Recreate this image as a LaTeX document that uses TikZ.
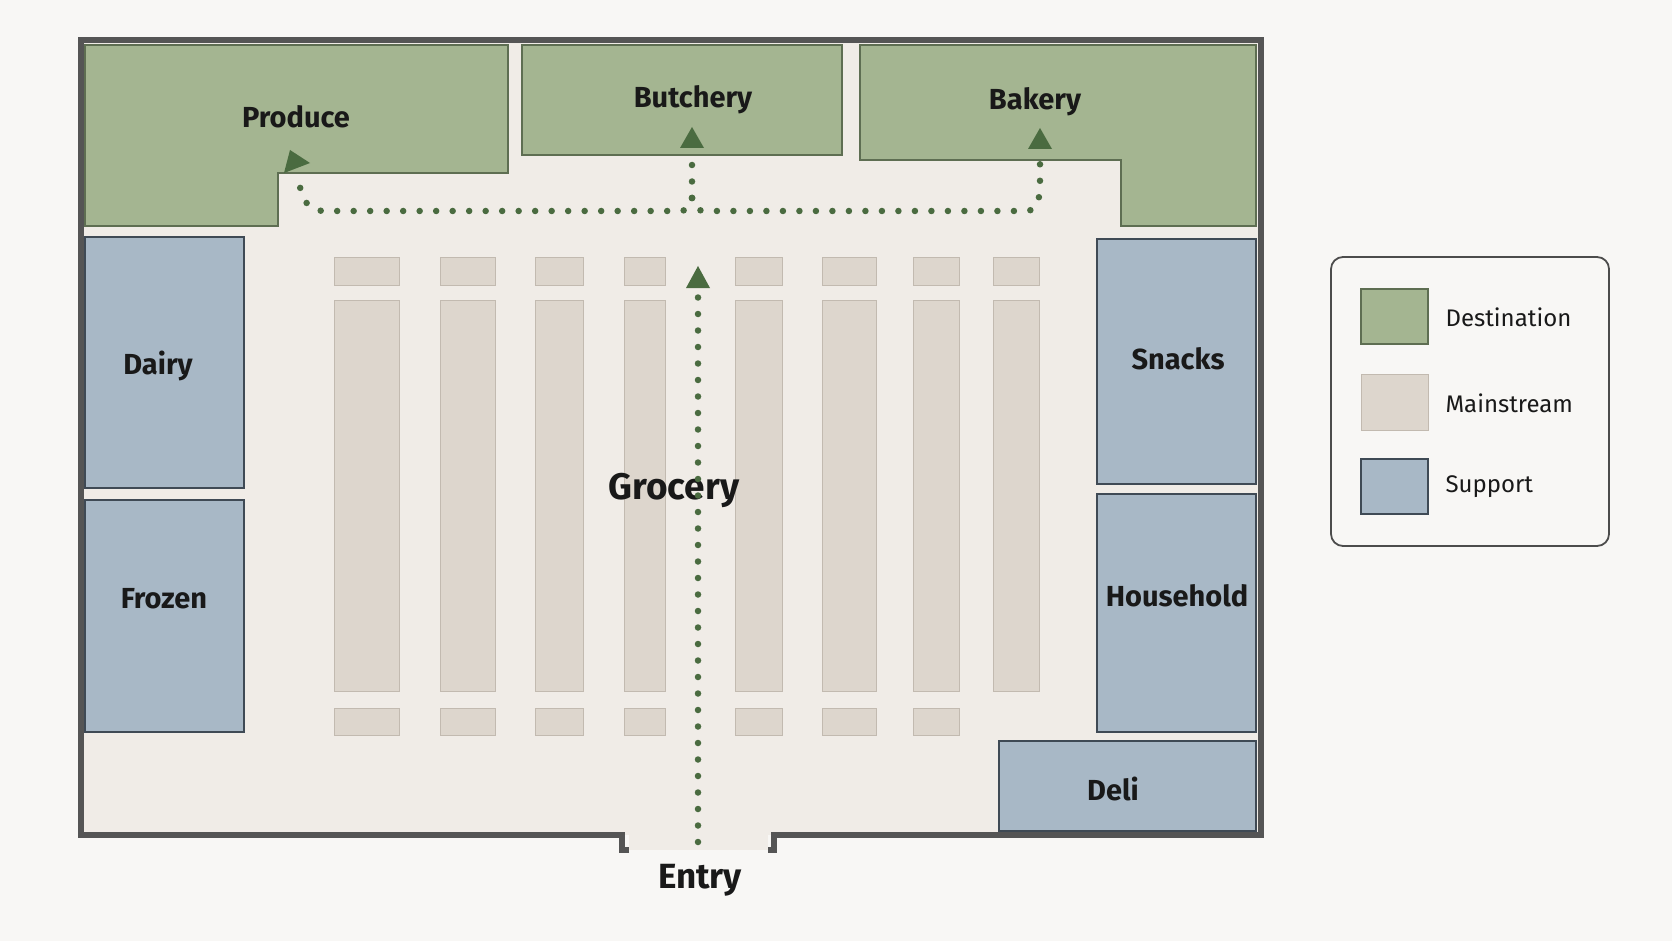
\documentclass[tikz,border=0pt]{standalone}
\usepackage{fontspec}
\setmainfont{Fira Sans}
\usetikzlibrary{arrows.meta}
\definecolor{bg}{HTML}{F8F7F5}
\definecolor{floor}{HTML}{F0ECE7}
\definecolor{dest}{HTML}{A4B591}
\definecolor{destE}{HTML}{5E6E52}
\definecolor{supp}{HTML}{A8B8C6}
\definecolor{suppE}{HTML}{3F4A55}
\definecolor{main}{HTML}{DDD6CD}
\definecolor{mainE}{HTML}{C2BAB0}
\definecolor{wall}{HTML}{555555}
\definecolor{path}{HTML}{4A6B40}
\begin{document}
\begin{tikzpicture}[x=1pt,y=-1pt,
  dst/.style={fill=dest,draw=destE,line width=1.2pt},
  sup/.style={fill=supp,draw=suppE,line width=1.2pt},
  shelf/.style={fill=main,draw=mainE,line width=1pt},
  lbl/.style={font=\fontsize{29}{30}\selectfont\bfseries,text=black!90},
  leg/.style={font=\fontsize{24}{26}\selectfont,text=black!90,anchor=west},
  route/.style={draw=path,line width=6.5pt,line cap=round,dash pattern=on 0pt off 16.5pt},
  tip/.style={-{Triangle[length=22pt,width=24pt,line cap=butt]},}]
\useasboundingbox (0,0) rectangle (1672,941);
\fill[bg] (0,0) rectangle (1672,941);
% floor and wall
\fill[floor] (81,40) rectangle (1261,835);
\fill[floor] (629,835) rectangle (768,850);
\draw[wall,line width=5.5pt] (629,850) -- (622,850) -- (622,835) -- (81,835) -- (81,40) -- (1261,40) -- (1261,835) -- (774,835) -- (774,850) -- (768,850);
% destination
\draw[dst] (85,45) -- (508,45) -- (508,173) -- (278,173) -- (278,226) -- (85,226) -- cycle;
\draw[dst] (522,45) rectangle (842,155);
\draw[dst] (860,45) -- (1256,45) -- (1256,226) -- (1121,226) -- (1121,160) -- (860,160) -- cycle;
% support
\draw[sup] (85,237) rectangle (244,488);
\draw[sup] (85,500) rectangle (244,732);
\draw[sup] (1097,239) rectangle (1256,484);
\draw[sup] (1097,494) rectangle (1256,732);
\draw[sup] (999,741) rectangle (1256,831);
% shelves
\foreach \a/\b/\bot in {334/399/1,440/495/1,535/583/1,624/665/1,735/782/1,822/876/1,913/959/1,993/1039/0}{
  \draw[shelf] (\a,258) rectangle (\b,285);
  \draw[shelf] (\a,300) rectangle (\b,691);
  \ifnum\bot=1 \draw[shelf] (\a,708) rectangle (\b,735);\fi
}
% labels
\node[lbl] (produce) at (296,117) {Produce};
\node[lbl] (butchery) at (693,100) {Butchery};
\node[lbl] (bakery) at (1035,102) {Bakery};
\node[lbl] (dairy) at (158,366) {Dairy};
\node[lbl] (frozen) at (164,599) {Frozen};
\node[lbl] (snacks) at (1178,359) {Snacks};
\node[lbl] (household) at (1177,596) {Household};
\node[lbl] (deli) at (1113,789) {Deli};
\node[lbl,font=\fontsize{37}{38}\selectfont\bfseries] (grocery) at (674,490) {Grocery};
\node[lbl,font=\fontsize{35}{36}\selectfont\bfseries] (entry) at (700,880) {Entry};
% routes
\coordinate (start) at (698,842);
\coordinate (mainend) at (698,266);
\coordinate (hub) at (692,198);
\coordinate (pT) at (290,150);
\coordinate (buT) at (692,127);
\coordinate (baT) at (1040,128);
\draw[route] (start) -- (698,290);
\draw[route] (hub) .. controls (692,211) and (684,211) .. (674,211) -- (325,211) .. controls (308,211) and (300,200) .. (298,172);
\draw[route] (hub) .. controls (692,211) and (700,211) .. (712,211) -- (1025,211) .. controls (1036,211) and (1040,205) .. (1040,180) -- (1040,160);
\draw[route] (hub) -- (692,160);
\fill[path] (mainend) -- ++(-12,22) -- ++(24,0) -- cycle;
\fill[path] (buT) -- ++(-12,21) -- ++(24,0) -- cycle;
\fill[path] (baT) -- ++(-12,21) -- ++(24,0) -- cycle;
\fill[path] (pT) -- (284,173) -- (310,163) -- cycle;
% legend
\draw[line width=1.8pt,draw=black!70,fill=bg,rounded corners=12pt] (1331,257) rectangle (1609,546);
\draw[dst] (1361,289) rectangle (1428,344);
\draw[shelf] (1361,374) rectangle (1428,430);
\draw[sup] (1361,459) rectangle (1428,514);
\node[leg] (l1) at (1442,317) {Destination};
\node[leg] (l2) at (1442,403) {Mainstream};
\node[leg] (l3) at (1442,487) {Support};
\end{tikzpicture}
\end{document}
